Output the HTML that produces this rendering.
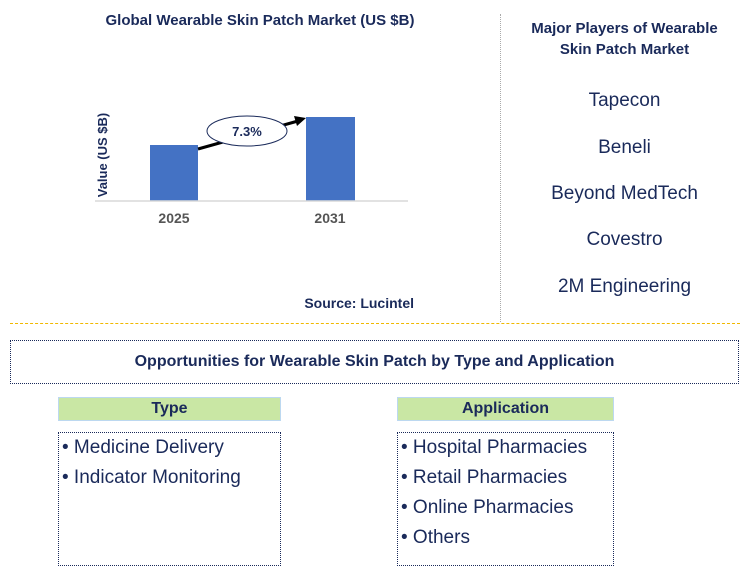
<!DOCTYPE html>
<html><head><style>
body{margin:0;width:749px;height:587px;background:#fff;font-family:"Liberation Sans",Arial,sans-serif;position:relative;overflow:hidden}
.a{position:absolute}
.t{color:#1a2a5a}
.pl{position:absolute;left:500px;width:249px;text-align:center;font-size:19px;color:#1a2a5a}
.list{position:absolute;border:1px dotted #1a2a5a;font-size:19px;color:#1a2a5a;line-height:30px;padding:0 0 0 3px;box-sizing:border-box}
.hd{position:absolute;background:#c9e7a4;border:1px solid #bcd8f0;box-sizing:border-box;text-align:center;font-weight:bold;font-size:16px;color:#1a2a5a;line-height:22px}
</style></head><body>
<div class="a t" style="left:60px;top:12px;width:400px;text-align:center;font-weight:bold;font-size:15px">Global Wearable Skin Patch Market (US $B)</div>
<svg class="a" style="left:0;top:0" width="500" height="320">
<text x="107" y="155" transform="rotate(-90 107 155)" text-anchor="middle" font-size="13" font-weight="bold" fill="#1a2a5a" font-family="Liberation Sans">Value (US $B)</text>
<rect x="150" y="145" width="48" height="56" fill="#4472c4"/>
<rect x="306" y="117" width="49" height="84" fill="#4472c4"/>
<line x1="95" y1="201" x2="408" y2="201" stroke="#d9d9d9" stroke-width="1.5"/>
<line x1="198" y1="149" x2="298" y2="121" stroke="#000" stroke-width="3"/>
<polygon points="306,118 294,116 297,126" fill="#000"/>
<ellipse cx="247" cy="131" rx="40" ry="15" fill="#fff" stroke="#1a2a5a" stroke-width="1"/>
<text x="247" y="136" text-anchor="middle" font-size="13" font-weight="bold" fill="#1a2a5a" font-family="Liberation Sans">7.3%</text>
<text x="174" y="223" text-anchor="middle" font-size="14" font-weight="bold" fill="#555" font-family="Liberation Sans">2025</text>
<text x="330" y="223" text-anchor="middle" font-size="14" font-weight="bold" fill="#555" font-family="Liberation Sans">2031</text>
<text x="414" y="308" text-anchor="end" font-size="14" font-weight="bold" fill="#1a2a5a" font-family="Liberation Sans">Source: Lucintel</text>
</svg>
<div class="a" style="left:500px;top:14px;height:308px;border-left:1px dotted #aaa"></div>
<div class="a" style="left:10px;top:323px;width:730px;border-top:1px dashed #f0b800"></div>
<div class="a t" style="left:500px;top:18px;width:249px;text-align:center;font-weight:bold;font-size:15px;line-height:21px">Major Players of Wearable<br>Skin Patch Market</div>
<div class="pl" style="top:90px">Tapecon</div>
<div class="pl" style="top:137px">Beneli</div>
<div class="pl" style="top:183px">Beyond MedTech</div>
<div class="pl" style="top:229px">Covestro</div>
<div class="pl" style="top:276px">2M Engineering</div>
<div class="a t" style="left:10px;top:340px;width:729px;height:44px;border:1px dotted #1a2a5a;box-sizing:border-box;text-align:center;font-weight:bold;font-size:16px;line-height:42px">Opportunities for Wearable Skin Patch by Type and Application</div>
<div class="hd" style="left:58px;top:397px;width:223px;height:24px">Type</div>
<div class="hd" style="left:397px;top:397px;width:217px;height:24px">Application</div>
<div class="list" style="left:58px;top:432px;width:223px;height:134px">• Medicine Delivery<br>• Indicator Monitoring</div>
<div class="list" style="left:397px;top:432px;width:217px;height:134px">• Hospital Pharmacies<br>• Retail Pharmacies<br>• Online Pharmacies<br>• Others</div>
</body></html>
